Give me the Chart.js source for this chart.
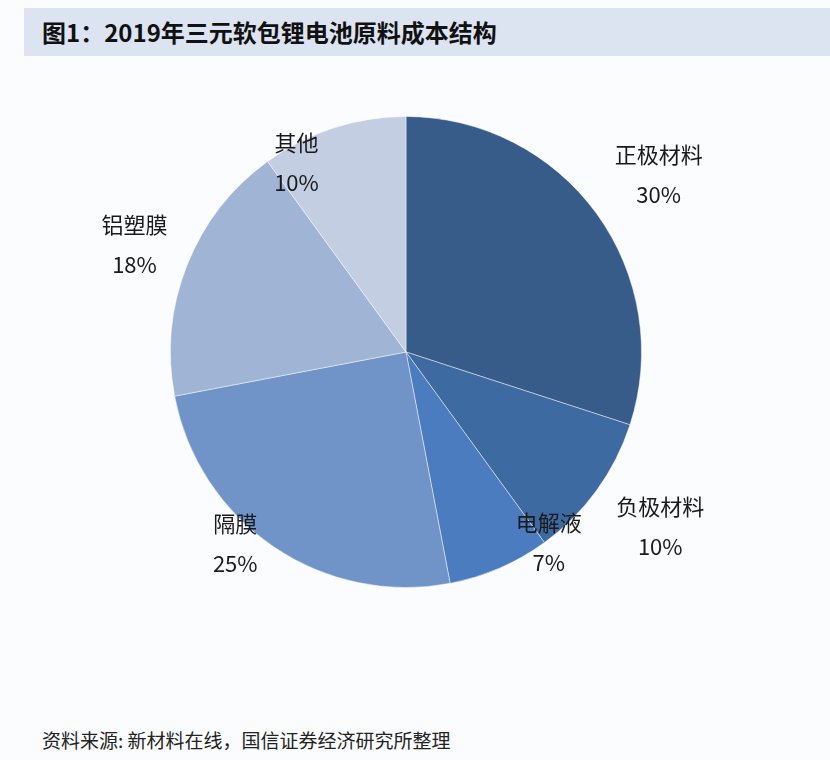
<!DOCTYPE html>
<html>
<head>
<meta charset="utf-8">
<script src="https://cdn.jsdelivr.net/npm/chart.js@4.4.0/dist/chart.umd.min.js"></script>
<style>
    body { margin: 0; background: #fbfcfe; width: 830px; height: 760px; position: relative; overflow: hidden; }
    #titolo {
        position: absolute; left: 24px; top: 8px; width: 806px; height: 48px;
        background: #dce4f1;
        font-family: "Noto Sans CJK SC", sans-serif; font-weight: bold; font-size: 24px;
        line-height: 48px; color: #111; padding-left: 18px; box-sizing: border-box;
    }
    #fonte {
        position: absolute; left: 42px; top: 726px;
        font-family: "Noto Sans CJK SC", sans-serif; font-size: 19px; color: #222;
    }
    #box { position: absolute; left: 0; top: 60px; width: 812px; height: 600px; }
</style>
</head>
<body>
<div id="titolo">图1：2019年三元软包锂电池原料成本结构</div>
<div id="box"><canvas id="graficoTorta"></canvas></div>
<div id="fonte">资料来源: 新材料在线，国信证券经济研究所整理</div>
<script>
const categorie = ['正极材料', '负极材料', '电解液', '隔膜', '铝塑膜', '其他'];
const quote = [30, 10, 7, 25, 18, 10];
const colori = ['#375c8a', '#3e6aa2', '#4a7cbf', '#7094c8', '#a0b4d6', '#c3cee3'];

// etichette tipo Excel: distanza (rispetto al raggio) e spostamento angolare
const etichettePlugin = {
    id: 'etichettePlugin',
    afterDraw(chart) {
        const cfg = chart.options.plugins.etichette;
        const ctx = chart.ctx;
        const arcs = chart.getDatasetMeta(0).data;
        ctx.save();
        ctx.fillStyle = '#1a1a1a';
        ctx.textAlign = 'center';
        ctx.textBaseline = 'middle';
        ctx.font = '22px "Noto Sans CJK SC", sans-serif';
        arcs.forEach((arc, i) => {
            const k = cfg.raggio[i];
            const ang = (arc.startAngle + arc.endAngle) / 2 + cfg.spost[i] * Math.PI / 180;
            const r = arc.outerRadius * k;
            const x = arc.x + Math.cos(ang) * r;
            const y = arc.y + Math.sin(ang) * r;
            ctx.fillText(categorie[i], x, y - 20);
            ctx.fillText(quote[i] + '%', x, y + 20);
        });
        ctx.restore();
    }
};

new Chart(document.getElementById('graficoTorta'), {
    type: 'pie',
    data: {
        labels: categorie,
        datasets: [{
            data: quote,
            backgroundColor: colori,
            borderColor: 'rgba(255,255,255,0.45)',
            borderWidth: 1
        }]
    },
    options: {
        responsive: true,
        maintainAspectRatio: false,
        animation: false,
        layout: { padding: { left: 170, right: 170, top: 56, bottom: 72 } },
        plugins: {
            legend: { display: false },
            tooltip: { enabled: false },
            etichette: {
                raggio: [1.31, 1.31, 1.01, 1.09, 1.24, 0.93],
                spost: [1, -1.5, -13.5, 7.5, 0, -12]
            }
        }
    },
    plugins: [etichettePlugin]
});
</script>
</body>
</html>
